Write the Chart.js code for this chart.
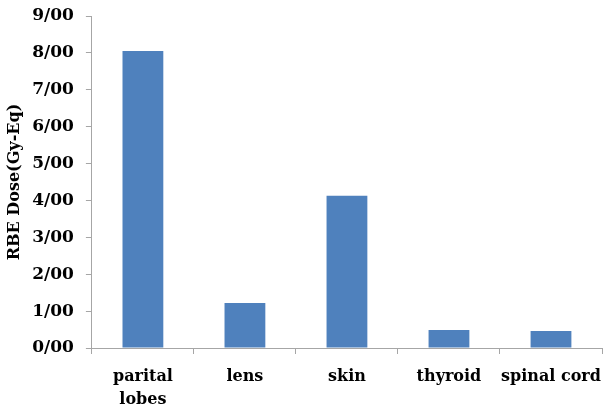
<!DOCTYPE html>
<html>
<head>
<meta charset="utf-8">
<script src="https://cdn.jsdelivr.net/npm/chart.js@4"></script>
<style>
  html, body { margin: 0; padding: 0; background: #ffffff; }
  #wrap { width: 604px; height: 407px; position: relative; }
</style>
</head>
<body>
<div id="wrap"><canvas id="doseChart"></canvas></div>
<script>
// 器官类别与 RBE 剂量
const organs = [['parital', 'lobes'], 'lens', 'skin', 'thyroid', 'spinal cord'];
const rbeDose = [8.05, 1.22, 4.13, 0.49, 0.46];
const yTicks = [0, 1, 2, 3, 4, 5, 6, 7, 8, 9];

const axisColor = '#a6a6a6';
const serif = "'DejaVu Serif', serif";
const yFont = { family: serif, weight: 'bold', size: 17, lineHeight: 1.35 };
const xFont = { family: serif, weight: 'bold', size: 16, lineHeight: 1.44 };

const fmtTick = (v) => Math.floor(v) + '/' + String(Math.round((v % 1) * 100)).padStart(2, '0');

new Chart(document.getElementById('doseChart').getContext('2d'), {
  type: 'bar',
  data: {
    labels: organs,
    datasets: [{
      label: 'RBE Dose',
      data: rbeDose,
      backgroundColor: '#4f81bd',
      borderColor: '#4f81bd',
      borderWidth: 0,
      categoryPercentage: 0.4,
      barPercentage: 1.0
    }]
  },
  options: {
    responsive: true,
    maintainAspectRatio: false,
    animation: false,
    layout: { padding: { top: 16, right: 2, left: 0, bottom: 0 } },
    plugins: {
      legend: { display: false },
      tooltip: { enabled: false }
    },
    scales: {
      x: {
        grid: { display: true, drawOnChartArea: false, drawTicks: true, tickLength: 6, color: axisColor },
        border: { color: axisColor, width: 1 },
        ticks: { color: '#000000', font: xFont, padding: 11, maxRotation: 0, autoSkip: false },
        // 标签略超出类别宽度，不让它挤压绘图区；底部留白按原图收紧
        afterFit: (s) => { s.paddingRight = 0; s.paddingLeft = 0; s.height = 59; }
      },
      y: {
        min: 0,
        max: 9,
        afterBuildTicks: (axis) => { axis.ticks = yTicks.map(v => ({ value: v })); },
        afterFit: (s) => { s.paddingTop = 0; s.paddingBottom = 0; s.width -= 4; },
        grid: { display: true, drawOnChartArea: false, drawTicks: true, tickLength: 6, color: axisColor },
        border: { color: axisColor, width: 1 },
        ticks: { color: '#000000', font: yFont, padding: 12, callback: (v) => fmtTick(v) },
        title: {
          display: true,
          text: 'RBE Dose(Gy-Eq)',
          color: '#000000',
          font: { family: serif, weight: 'bold', size: 16 },
          padding: { top: 5, bottom: 0 }
        }
      }
    }
  }
});
</script>
</body>
</html>
